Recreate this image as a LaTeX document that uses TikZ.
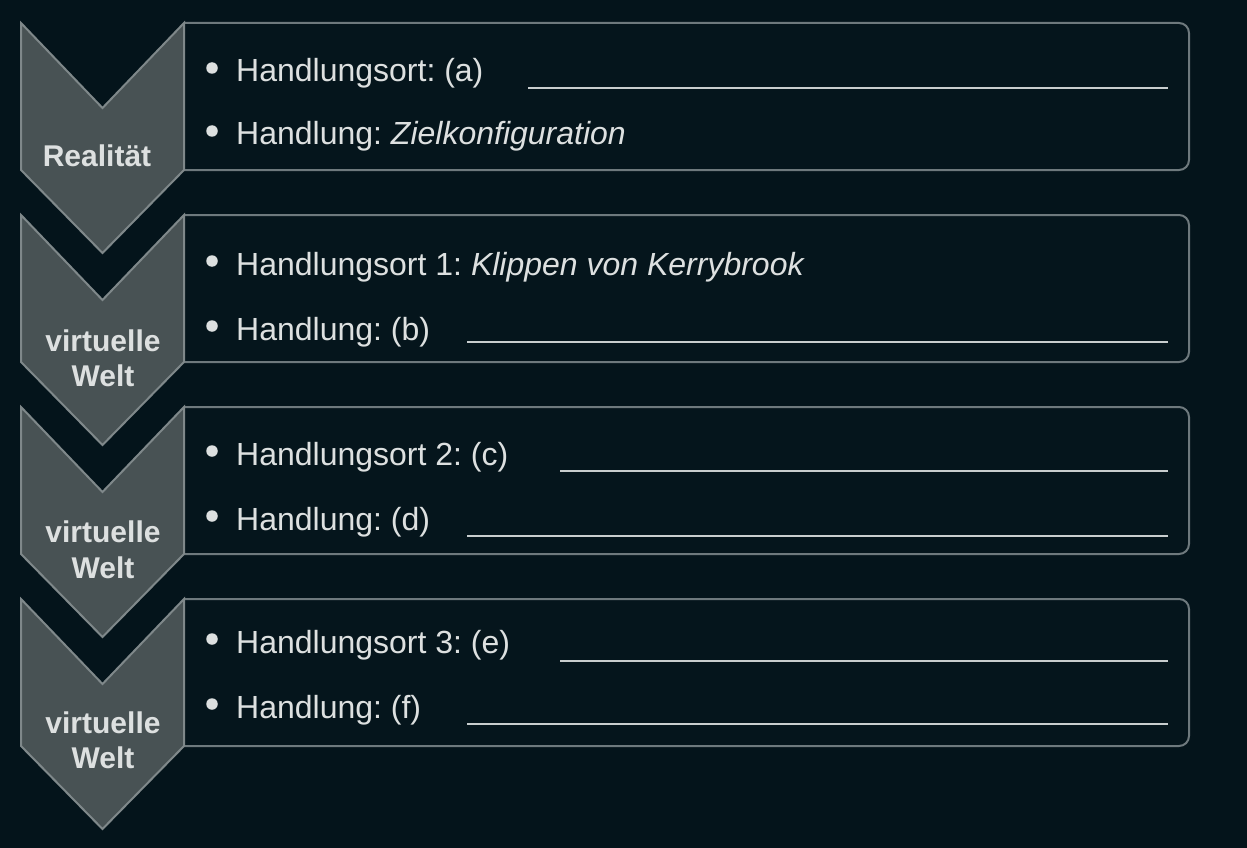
\documentclass[tikz,border=0pt]{standalone}
\usepackage{fontspec}
\setmainfont{Liberation Sans}
\frenchspacing
\definecolor{bgc}{HTML}{04141B}
\definecolor{boxfill}{HTML}{05151C}
\definecolor{boxedge}{HTML}{6E797D}
\definecolor{chevfill}{HTML}{485254}
\definecolor{chevedge}{HTML}{7F888A}
\definecolor{txt}{HTML}{DDE0E0}
\definecolor{uline}{HTML}{C8CDCE}
\tikzset{
  panel/.style={draw=boxedge, line width=2pt, fill=boxfill, rounded corners=10pt},
  chev/.style={draw=chevedge, line width=2pt, fill=chevfill, line join=miter},
  item/.style={anchor=base west, inner sep=0pt, text=txt, font=\frenchspacing\fontsize{32}{38}\selectfont},
  lab/.style={anchor=base, inner sep=0pt, text=txt, font=\bfseries\fontsize{30}{34}\selectfont},
  dotb/.style={circle, fill=txt, inner sep=0pt, minimum size=11.5pt},
  blank/.style={draw=uline, line width=2pt}
}
\begin{document}
\begin{tikzpicture}[x=1pt,y=-1pt]
\fill[bgc] (0,0) rectangle (1247,848);
\useasboundingbox (0,0) rectangle (1247,848);
% panels
\foreach \T in {23,215,407,599}{
  \filldraw[panel] (184,\T) -- (1189,\T) -- (1189,\T+147) -- (184,\T+147);
}
% chevrons
\foreach \T in {23,215,407,599}{
  \filldraw[chev] (21,\T) -- (102.5,\T+85) -- (184,\T) -- (184,\T+147) -- (102.5,\T+230) -- (21,\T+147) -- cycle;
}
% chevron labels
\node[lab] (l1) at (97,166) {Realität};
\node[lab] (l2a) at (103,351) {virtuelle};
\node[lab] (l2b) at (103,386) {Welt};
\node[lab] (l3a) at (103,542) {virtuelle};
\node[lab] (l3b) at (103,578) {Welt};
\node[lab] (l4a) at (103,733) {virtuelle};
\node[lab] (l4b) at (103,768) {Welt};
% bullets
\foreach \y [count=\i] in {68,131,261,326,451,516,639,704}{
  \node[dotb] (b\i) at (212,\y) {};
}
% items
\node[item] (t1) at (236,82) {Handlungsort: (a)};
\node[item] (t2) at (236,145) {Handlung: \textit{Zielkonfiguration}};
\node[item] (t3) at (236,275) {Handlungsort 1: \textit{Klippen von Kerrybrook}};
\node[item] (t4) at (236,340) {Handlung: (b)};
\node[item] (t5) at (236,465) {Handlungsort 2: (c)};
\node[item] (t6) at (236,530) {Handlung: (d)};
\node[item] (t7) at (236,653) {Handlungsort 3: (e)};
\node[item] (t8) at (236,718) {Handlung: (f)};
% blanks
\coordinate (u1a) at (528,88);  \coordinate (u1b) at (1168,88);
\coordinate (u4a) at (467,342); \coordinate (u4b) at (1168,342);
\coordinate (u5a) at (560,471); \coordinate (u5b) at (1168,471);
\coordinate (u6a) at (467,536); \coordinate (u6b) at (1168,536);
\coordinate (u7a) at (560,661); \coordinate (u7b) at (1168,661);
\coordinate (u8a) at (467,724); \coordinate (u8b) at (1168,724);
\foreach \k in {1,4,5,6,7,8}{
  \draw[blank] (u\k a) -- (u\k b);
}
\end{tikzpicture}
\end{document}
